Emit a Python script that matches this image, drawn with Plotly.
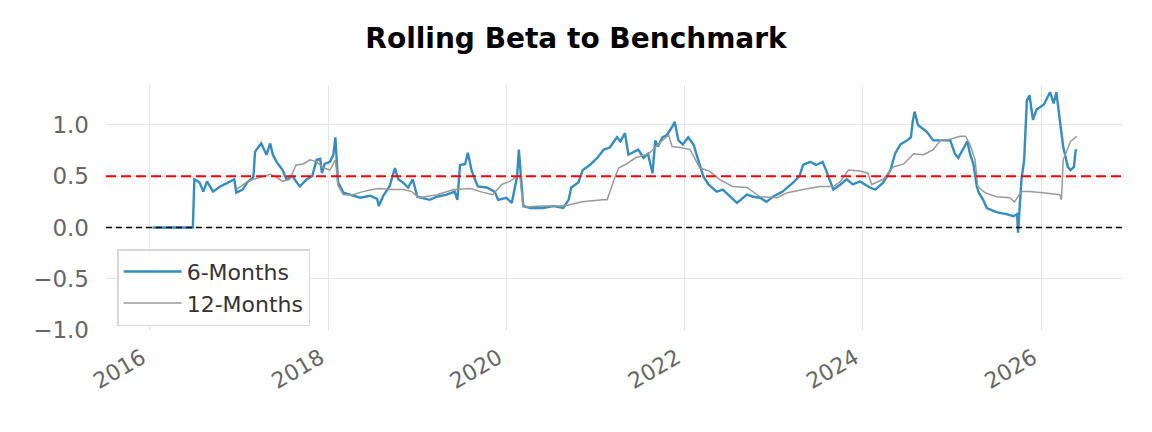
import plotly.graph_objects as go

# ---- data ----
beta6_dates = [
    "2016-01-12", "2016-06-25", "2016-07-01", "2016-07-22", "2016-08-07", "2016-08-22", "2016-09-16",
    "2016-10-15", "2016-11-10", "2016-12-12", "2016-12-20", "2017-01-15", "2017-02-03", "2017-02-28",
    "2017-03-07", "2017-03-18", "2017-04-01", "2017-04-23", "2017-05-08", "2017-05-19", "2017-06-03",
    "2017-06-28", "2017-07-13", "2017-08-07", "2017-09-06", "2017-10-05", "2017-10-27", "2017-11-14",
    "2017-11-29", "2017-12-06", "2017-12-17", "2018-01-08", "2018-01-22", "2018-01-30", "2018-02-06",
    "2018-02-10", "2018-03-04", "2018-03-29", "2018-05-12", "2018-06-21", "2018-07-20", "2018-07-27",
    "2018-08-14", "2018-09-09", "2018-10-01", "2018-10-15", "2018-11-03", "2018-11-24", "2018-12-13",
    "2019-01-01", "2019-01-23", "2019-02-21", "2019-03-22", "2019-05-01", "2019-06-03", "2019-06-14",
    "2019-06-25", "2019-07-16", "2019-07-27", "2019-08-11", "2019-08-25", "2019-09-06", "2019-10-12",
    "2019-11-14", "2019-11-28", "2020-01-01", "2020-01-23", "2020-02-14", "2020-02-21", "2020-02-28",
    "2020-03-10", "2020-04-08", "2020-05-29", "2020-07-12", "2020-08-21", "2020-09-12", "2020-09-23",
    "2020-10-22", "2020-11-09", "2020-12-08", "2021-01-08", "2021-02-03", "2021-02-28", "2021-03-29",
    "2021-04-12", "2021-05-01", "2021-05-15", "2021-06-24", "2021-07-16", "2021-08-03", "2021-08-22",
    "2021-09-02", "2021-09-13", "2021-10-01", "2021-10-19", "2021-11-10", "2021-11-21", "2021-12-06",
    "2021-12-24", "2022-01-15", "2022-02-06", "2022-02-25", "2022-03-18", "2022-04-08", "2022-05-12",
    "2022-06-06", "2022-07-05", "2022-08-03", "2022-09-13", "2022-10-08", "2022-11-06", "2022-12-02",
    "2022-12-28", "2023-02-06", "2023-03-22", "2023-04-16", "2023-05-01", "2023-05-30", "2023-06-24",
    "2023-07-20", "2023-08-03", "2023-09-02", "2023-10-01", "2023-10-27", "2023-11-21", "2023-12-20",
    "2024-01-30", "2024-02-21", "2024-03-25", "2024-04-23", "2024-05-12", "2024-06-03", "2024-07-01",
    "2024-07-16", "2024-07-23", "2024-07-31", "2024-08-14", "2024-09-20", "2024-10-15", "2024-11-14",
    "2024-12-24", "2025-01-12", "2025-01-26", "2025-03-04", "2025-03-15", "2025-03-29", "2025-04-12",
    "2025-04-20", "2025-05-08", "2025-05-23", "2025-07-01", "2025-08-11", "2025-09-09", "2025-09-24",
    "2025-09-28", "2025-10-12", "2025-10-23", "2025-11-03", "2025-11-14", "2025-11-28", "2025-12-13",
    "2026-01-12", "2026-02-06", "2026-02-21", "2026-03-04", "2026-03-18", "2026-04-01", "2026-04-20",
    "2026-05-01", "2026-05-15", "2026-05-22", "2026-05-27",
]
beta6_values = [
    0.00, 0.00, 0.47, 0.44, 0.35, 0.45, 0.35,
    0.40, 0.43, 0.47, 0.34, 0.37, 0.44, 0.49,
    0.74, 0.78, 0.82, 0.71, 0.82, 0.71, 0.64,
    0.56, 0.47, 0.50, 0.40, 0.47, 0.50, 0.66,
    0.67, 0.53, 0.62, 0.64, 0.71, 0.88, 0.59,
    0.44, 0.34, 0.32, 0.29, 0.31, 0.28, 0.21,
    0.31, 0.40, 0.58, 0.47, 0.44, 0.39, 0.47,
    0.30, 0.29, 0.27, 0.30, 0.32, 0.35, 0.27,
    0.61, 0.62, 0.73, 0.56, 0.47, 0.40, 0.39,
    0.35, 0.27, 0.29, 0.24, 0.50, 0.76, 0.53,
    0.21, 0.19, 0.19, 0.21, 0.19, 0.27, 0.39,
    0.44, 0.56, 0.61, 0.68, 0.76, 0.78, 0.88,
    0.84, 0.92, 0.71, 0.76, 0.68, 0.72, 0.53,
    0.85, 0.79, 0.88, 0.90, 0.98, 1.03, 0.85,
    0.81, 0.88, 0.81, 0.66, 0.50, 0.42, 0.35,
    0.37, 0.30, 0.24, 0.32, 0.30, 0.29, 0.25,
    0.30, 0.35, 0.44, 0.50, 0.61, 0.64, 0.61,
    0.64, 0.56, 0.37, 0.42, 0.47, 0.42, 0.45,
    0.39, 0.37, 0.44, 0.56, 0.72, 0.81, 0.85,
    0.88, 1.03, 1.13, 1.00, 0.93, 0.85, 0.85,
    0.85, 0.72, 0.68, 0.84, 0.72, 0.62, 0.40,
    0.34, 0.27, 0.19, 0.15, 0.13, 0.11, 0.13,
    -0.05, 0.47, 0.66, 1.24, 1.29, 1.05, 1.15,
    1.20, 1.32, 1.21, 1.32, 1.05, 0.79, 0.59,
    0.56, 0.59, 0.75, 0.76,
]

beta12_dates = [
    "2016-12-20", "2017-01-30", "2017-02-28", "2017-04-08", "2017-05-08", "2017-06-03", "2017-06-28",
    "2017-07-27", "2017-08-22", "2017-09-20", "2017-10-19", "2017-11-14", "2017-12-13", "2018-01-08",
    "2018-01-30", "2018-02-10", "2018-03-04", "2018-04-12", "2018-05-23", "2018-07-01", "2018-07-31",
    "2018-09-09", "2018-11-03", "2018-12-09", "2019-01-08", "2019-03-22", "2019-05-30", "2019-08-07",
    "2019-09-16", "2019-11-06", "2019-12-13", "2020-01-15", "2020-02-14", "2020-02-25", "2020-03-10",
    "2020-05-26", "2020-08-07", "2020-09-12", "2020-11-06", "2021-01-30", "2021-02-17", "2021-03-18",
    "2021-04-05", "2021-05-08", "2021-06-14", "2021-08-07", "2021-10-01", "2021-10-27", "2021-11-10",
    "2021-12-13", "2022-01-23", "2022-03-04", "2022-04-12", "2022-05-23", "2022-07-16", "2022-09-13",
    "2022-11-06", "2023-01-15", "2023-02-25", "2023-05-01", "2023-07-09", "2023-09-02", "2023-10-01",
    "2023-11-03", "2023-12-20", "2024-01-22", "2024-02-06", "2024-03-25", "2024-05-04", "2024-06-17",
    "2024-07-27", "2024-09-06", "2024-10-15", "2024-11-14", "2024-12-24", "2025-02-03", "2025-02-25",
    "2025-03-15", "2025-04-05", "2025-04-16", "2025-05-15", "2025-07-01", "2025-08-25", "2025-09-13",
    "2025-10-12", "2025-11-14", "2026-01-08", "2026-03-18", "2026-03-25", "2026-04-01", "2026-05-01",
    "2026-05-27",
]
beta12_values = [
    0.37, 0.44, 0.47, 0.50, 0.52, 0.49, 0.45,
    0.47, 0.61, 0.62, 0.66, 0.64, 0.58, 0.56,
    0.66, 0.41, 0.32, 0.32, 0.35, 0.37, 0.38,
    0.37, 0.37, 0.35, 0.29, 0.32, 0.37, 0.38,
    0.35, 0.32, 0.42, 0.45, 0.50, 0.50, 0.20,
    0.21, 0.21, 0.22, 0.25, 0.27, 0.27, 0.47,
    0.58, 0.62, 0.68, 0.72, 0.85, 0.90, 0.79,
    0.78, 0.76, 0.58, 0.55, 0.47, 0.40, 0.39,
    0.30, 0.29, 0.34, 0.37, 0.40, 0.40, 0.45,
    0.56, 0.55, 0.53, 0.42, 0.47, 0.59, 0.62,
    0.72, 0.71, 0.76, 0.85, 0.86, 0.89, 0.89,
    0.81, 0.66, 0.40, 0.34, 0.30, 0.29, 0.25,
    0.35, 0.35, 0.34, 0.32, 0.27, 0.66, 0.84,
    0.89,
]

target_beta = 0.5
zero_level = 0.0
y_ticks = [-1.0, -0.5, 0.0, 0.5, 1.0]
y_tick_labels = ["\u22121.0", "\u22120.5", "0.0", "0.5", "1.0"]
x_ticks = ["2016-01-01", "2018-01-01", "2020-01-01", "2022-01-01", "2024-01-01", "2026-01-01"]
x_tick_labels = ["2016", "2018", "2020", "2022", "2024", "2026"]

FONT = "DejaVu Sans"

fig = go.Figure()
fig.add_trace(go.Scatter(
    x=beta6_dates, y=beta6_values, mode="lines", name="6-Months",
    line=dict(color="#348dc1", width=2.4),
))
fig.add_trace(go.Scatter(
    x=beta12_dates, y=beta12_values, mode="lines", name="12-Months",
    line=dict(color="#999999", width=1.5),
))

fig.add_shape(type="line", xref="paper", x0=0, x1=1, yref="y", y0=target_beta, y1=target_beta,
              line=dict(color="#ff0000", width=2, dash="10px,5px"), layer="above")
fig.add_shape(type="line", xref="paper", x0=0, x1=1, yref="y", y0=zero_level, y1=zero_level,
              line=dict(color="#000000", width=1.4, dash="6px,4px"), layer="above")

fig.update_layout(
    width=1152, height=432,
    margin=dict(l=106, r=30, t=85, b=102),
    paper_bgcolor="white", plot_bgcolor="white",
    font=dict(family=FONT, color="#666666"),
    title=dict(text="<b>Rolling Beta to Benchmark</b>", x=0.5, xanchor="center",
               y=1 - 38 / 432, yanchor="middle",
               font=dict(family=FONT, size=28, color="#000000")),
    showlegend=True,
    legend=dict(x=0.011, y=0.33, xanchor="left", yanchor="top",
                bgcolor="rgba(255,255,255,0.9)", bordercolor="#d8d8d8", borderwidth=1.5,
                font=dict(family=FONT, size=22, color="#333333"),
                tracegroupgap=0, itemwidth=58),
    xaxis=dict(
        type="date", range=["2015-07-05", "2026-11-28"],
        tickmode="array", tickvals=x_ticks, ticktext=x_tick_labels,
        tickangle=-30, tickfont=dict(family=FONT, size=22, color="#666666"),
        ticklabelshift=-8, ticklabelstandoff=10,
        showgrid=True, gridcolor="#e6e6e6", gridwidth=1,
        zeroline=False, showline=False, ticks="", ticklen=0,
    ),
    yaxis=dict(
        range=[-1.0, 1.39],
        tickmode="array", tickvals=y_ticks, ticktext=y_tick_labels,
        tickfont=dict(family=FONT, size=23, color="#666666"),
        ticklabelstandoff=16,
        showgrid=True, gridcolor="#e6e6e6", gridwidth=1,
        zeroline=False, showline=False, ticks="", ticklen=0,
    ),
)

fig.write_html("out.html")
